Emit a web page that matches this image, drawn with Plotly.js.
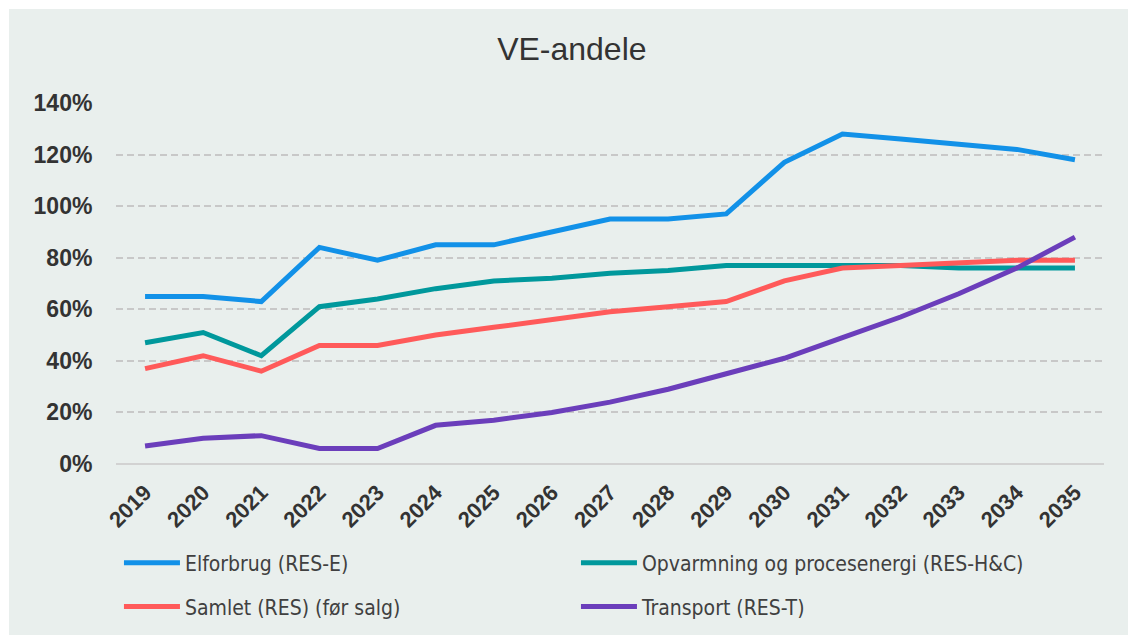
<!DOCTYPE html>
<html>
<head>
<meta charset="utf-8">
<script src="https://cdn.plot.ly/plotly-3.0.1.min.js"></script>
<style>
  body { margin: 0; background: #ffffff; }
  #plot { position: absolute; left: 9px; top: 9px; width: 1119px; height: 626px; }
</style>
</head>
<body>
<div id="plot"></div>
<script>
// VE-andele per sektor
var years = ["2019", "2020", "2021", "2022", "2023", "2024", "2025", "2026", "2027",
  "2028", "2029", "2030", "2031", "2032", "2033", "2034", "2035"];

var elforbrug = [0.65, 0.65, 0.63, 0.84, 0.79, 0.85, 0.85, 0.90, 0.95,
  0.95, 0.97, 1.17, 1.28, 1.26, 1.24, 1.22, 1.18];
var opvarmning = [0.47, 0.51, 0.42, 0.61, 0.64, 0.68, 0.71, 0.72, 0.74,
  0.75, 0.77, 0.77, 0.77, 0.77, 0.76, 0.76, 0.76];
var samlet = [0.37, 0.42, 0.36, 0.46, 0.46, 0.50, 0.53, 0.56, 0.59,
  0.61, 0.63, 0.71, 0.76, 0.77, 0.78, 0.79, 0.79];
var transport = [0.07, 0.10, 0.11, 0.06, 0.06, 0.15, 0.17, 0.20, 0.24,
  0.29, 0.35, 0.41, 0.49, 0.57, 0.66, 0.76, 0.88];

function line(name, y, color, legend) {
  return {
    x: years,
    y: y,
    name: name,
    type: "scatter",
    mode: "lines",
    legend: legend,
    line: { color: color, width: 5 }
  };
}

var data = [
  line("Elforbrug (RES-E)", elforbrug, "#1291E8", "legend"),
  line("Opvarmning og procesenergi (RES-H&C)", opvarmning, "#00989C", "legend"),
  line("Samlet (RES) (før salg)", samlet, "#FF5A5A", "legend2"),
  line("Transport (RES-T)", transport, "#6B3EBB", "legend2")
];

var legendFont = { family: "Liberation Sans Narrow, DejaVu Sans Condensed, Liberation Sans, sans-serif", size: 21, color: "#404040" };

var layout = {
  width: 1119,
  height: 626,
  paper_bgcolor: "#E9EFED",
  plot_bgcolor: "#E9EFED",
  margin: { l: 107, r: 24, t: 94, b: 171 },
  title: {
    text: "VE-andele",
    font: { family: "Liberation Sans, Arial, sans-serif", size: 32, color: "#333333" },
    x: 0.503,
    xref: "container",
    y: 0.936,
    yref: "container",
    yanchor: "middle"
  },
  xaxis: {
    type: "category",
    range: [-0.5, 16.5],
    automargin: false,
    tickangle: -45,
    showgrid: false,
    ticks: "outside",
    ticklen: 6,
    tickcolor: "rgba(0,0,0,0)",
    tickfont: { family: "Liberation Sans, Arial, sans-serif", size: 22, color: "#333333", weight: "bold" },
    showline: false,
    zeroline: false
  },
  yaxis: {
    range: [0, 1.4],
    dtick: 0.2,
    tickformat: ".0%",
    automargin: false,
    showgrid: true,
    gridcolor: "#C8C8C8",
    gridwidth: 1.5,
    griddash: "7px,4px",
    zeroline: true,
    zerolinecolor: "#D2D2D2",
    zerolinewidth: 2,
    ticks: "outside",
    ticklen: 18,
    tickcolor: "rgba(0,0,0,0)",
    tickfont: { family: "Liberation Sans, Arial, sans-serif", size: 23, color: "#333333", weight: "bold" }
  },
  legend: {
    orientation: "h",
    x: 0.003,
    xanchor: "left",
    y: 0.115,
    yref: "container",
    yanchor: "middle",
    entrywidth: 386,
    itemwidth: 56,
    bgcolor: "rgba(0,0,0,0)",
    font: legendFont
  },
  legend2: {
    orientation: "h",
    x: 0.003,
    xanchor: "left",
    y: 0.045,
    yref: "container",
    yanchor: "middle",
    entrywidth: 386,
    itemwidth: 56,
    bgcolor: "rgba(0,0,0,0)",
    font: legendFont
  },
  showlegend: true
};

Plotly.newPlot("plot", data, layout, { displayModeBar: false });
</script>
</body>
</html>
